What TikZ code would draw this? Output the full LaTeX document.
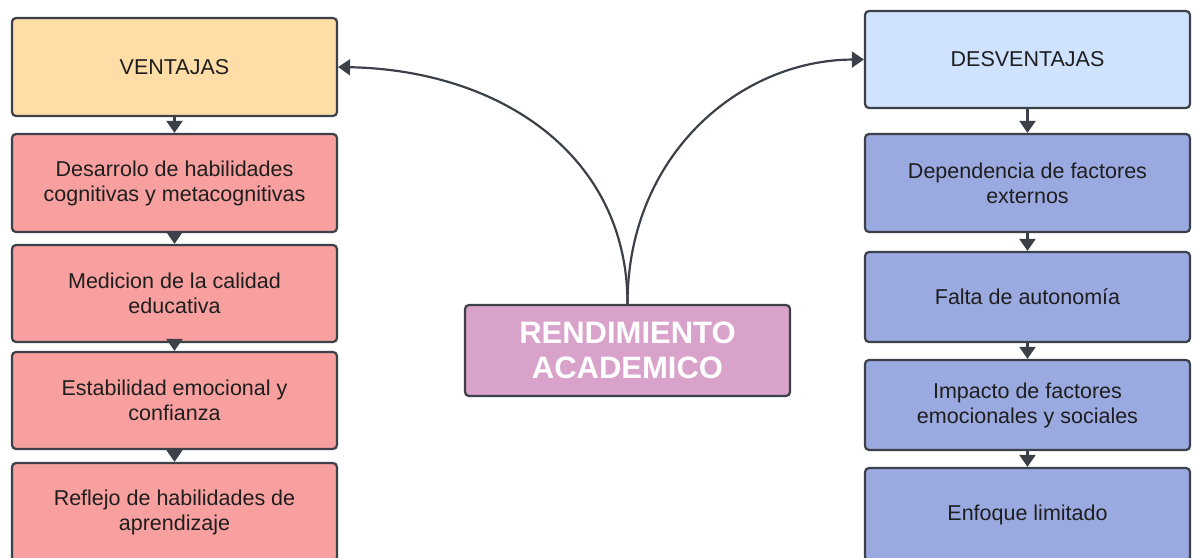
\documentclass[tikz,border=0pt]{standalone}
\usepackage{fontspec}
\setmainfont{Liberation Sans}
\usetikzlibrary{arrows.meta}
\definecolor{edge}{HTML}{3B4049}
\definecolor{txt}{HTML}{1E1E1E}
\definecolor{ventfill}{HTML}{FFDDA6}
\definecolor{redfill}{HTML}{F8A09F}
\definecolor{desfill}{HTML}{CFE3FF}
\definecolor{bluefill}{HTML}{9AAAE0}
\definecolor{centfill}{HTML}{D9A2CB}
\tikzset{
  box/.style={draw=edge, line width=2.2pt, rounded corners=4pt, minimum width=325pt,
    inner sep=0pt, align=center, text=txt, font=\fontsize{21.5}{25}\selectfont},
  conn/.style={draw=edge, line width=2.2pt, -{Triangle[width=16pt,length=12pt]}},
}
\begin{document}
\begin{tikzpicture}[x=1pt,y=-1pt]
\useasboundingbox (0,0) rectangle (1197,557);
\clip (0,0) rectangle (1197,557);
% left column
\node[box, fill=ventfill, minimum height=98pt] (v0) at (174.5,67) {VENTAJAS};
\node[box, fill=redfill, minimum height=98pt] (v1) at (174.5,183) {Desarrolo de habilidades\\cognitivas y metacognitivas};
\node[box, fill=redfill, minimum height=97pt] (v2) at (174.5,293.5) {Medicion de la calidad\\educativa};
\node[box, fill=redfill, minimum height=97pt] (v3) at (174.5,400.5) {Estabilidad emocional y\\confianza};
\node[box, fill=redfill, minimum height=98pt] (v4) at (174.5,512) {Reflejo de habilidades de\\aprendizaje};
% right column
\node[box, fill=desfill, minimum height=97pt] (d0) at (1027.5,59.5) {DESVENTAJAS};
\node[box, fill=bluefill, minimum height=98pt] (d1) at (1027.5,183) {Dependencia de factores\\externos};
\node[box, fill=bluefill, minimum height=90pt] (d2) at (1027.5,297) {Falta de autonomía};
\node[box, fill=bluefill, minimum height=90pt] (d3) at (1027.5,405) {Impacto de factores\\emocionales y sociales};
\node[box, fill=bluefill, minimum height=93pt] (d4) at (1027.5,514.5) {Enfoque limitado};
% center
\node[box, fill=centfill, minimum height=91pt, text=white,
  font=\fontsize{31}{35}\selectfont\bfseries] (c) at (627.5,350.5) {RENDIMIENTO\\ACADEMICO};
% vertical arrows
\draw[conn] (v0.south) -- (v1.north);
\draw[conn] (v1.south) -- (v2.north);
\draw[conn] (v2.south) -- (v3.north);
\draw[conn] (v3.south) -- (v4.north);
\draw[conn] (d0.south) -- (d1.north);
\draw[conn] (d1.south) -- (d2.north);
\draw[conn] (d2.south) -- (d3.north);
\draw[conn] (d3.south) -- (d4.north);
% curved arrows
\draw[conn] (c.north) .. controls (627.5,155) and (500,70) .. (v0.east);
\draw[conn] (c.north) .. controls (627.5,155) and (740,60) .. (d0.west);
\end{tikzpicture}
\end{document}
